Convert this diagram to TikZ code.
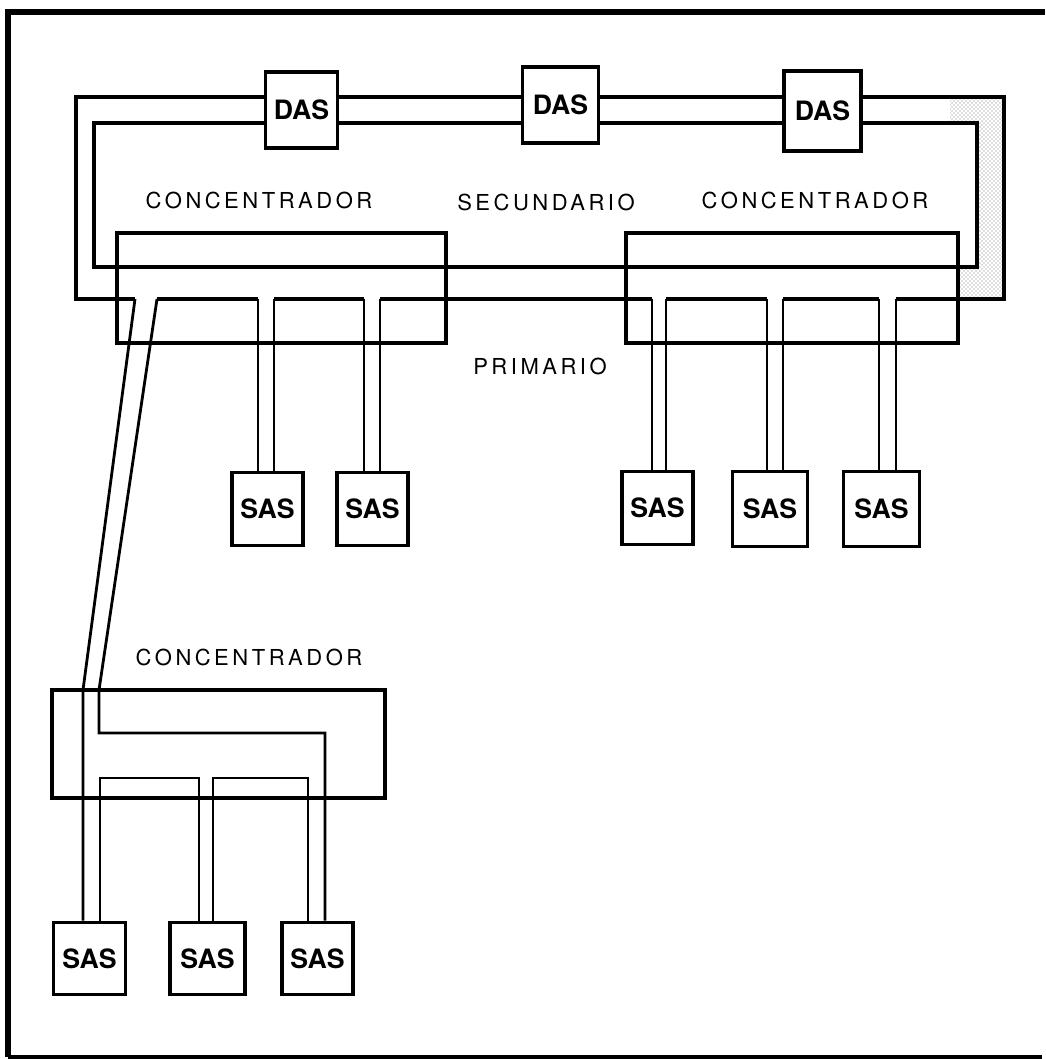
\documentclass[tikz,border=0pt]{standalone}
\usepackage{fontspec}
\setmainfont{TeX Gyre Heros}
\usetikzlibrary{patterns,calc}
\begin{document}
\begin{tikzpicture}[x=0.75pt,y=-0.75pt,
  wire/.style={line width=2.7pt, line join=miter},
  cable/.style={line width=2.1pt},
  unit/.style={draw, line width=2.7pt, fill=white, inner sep=0pt, minimum width=54pt, minimum height=56pt, font=\bfseries\fontsize{20}{22}\selectfont},
  conc/.style={draw, line width=2.7pt, inner sep=0pt},
  lbl/.style={inner sep=0pt, font=\fontsize{16.5}{18}\selectfont\addfontfeature{LetterSpace=16}},
]
\useasboundingbox (0,0) rectangle (1045,1059);

% frame
\draw[line width=4pt] (8,1057) -- (8,12) -- (1045,12);
\draw[line width=2.4pt] (8,1057) -- (1042,1057);

% stippled corner of the ring
\fill[pattern=crosshatch dots, pattern color=black!55] (950,97) -- (1004,97) -- (1004,299) -- (958,299) -- (958,267) -- (977,267) -- (977,123) -- (950,123) -- cycle;

% concentrators
\node[conc, minimum width=246.75pt, minimum height=82.5pt] (concL) at (281.5,288) {};
\node[conc, minimum width=249pt, minimum height=82.5pt] (concR) at (792,288) {};
\node[conc, minimum width=249.75pt, minimum height=81pt] (concB) at (218.5,744) {};

% ring corners
\coordinate (oTL) at (76,97);  \coordinate (oTR) at (1004,97);
\coordinate (oBL) at (76,299); \coordinate (oBR) at (1004,299);
\coordinate (iTL) at (94,123); \coordinate (iBR) at (977,267);

% taps on the primary ring
\coordinate (t0a) at (135,299); \coordinate (t0b) at (157,299);
\coordinate (t1a) at (258,299); \coordinate (t1b) at (274,299);
\coordinate (t2a) at (364,299); \coordinate (t2b) at (380,299);
\coordinate (t3a) at (652,299); \coordinate (t3b) at (666,299);
\coordinate (t4a) at (767,299); \coordinate (t4b) at (783,299);
\coordinate (t5a) at (879,299); \coordinate (t5b) at (896,299);

% secondary (inner) ring
\draw[wire] (iTL) rectangle (iBR);
% primary (outer) ring
\draw[wire] (t0a) -- (oBL) -- (oTL) -- (oTR) -- (oBR) -- (t5b);
\draw[wire] (t0b) -- (t1a);
\draw[wire] (t1b) -- (t2a);
\draw[wire] (t2b) -- (t3a);
\draw[wire] (t3b) -- (t4a);
\draw[wire] (t4b) -- (t5a);

% DAS stations
\node[unit, minimum width=54pt, minimum height=57pt] (das1) at (301.5,110) {DAS};
\node[unit, minimum width=57pt, minimum height=57pt] (das2) at (560.5,105) {DAS};
\node[unit, minimum width=58pt, minimum height=60pt] (das3) at (822.5,111) {DAS};

% upper SAS stations
\node[unit, minimum width=53pt, minimum height=55pt] (sasA) at (267.5,509) {SAS};
\node[unit, minimum width=53pt, minimum height=55pt] (sasB) at (372.5,509) {SAS};
\node[unit, minimum width=53pt, minimum height=55pt] (sasC) at (657.5,508) {SAS};
\node[unit, minimum width=56pt, minimum height=56pt] (sasD) at (770,509) {SAS};
\node[unit, minimum width=57pt, minimum height=56pt] (sasE) at (881.5,509) {SAS};

% lower SAS stations
\node[unit, minimum width=54pt, minimum height=54pt] (sasF) at (89.5,958.5) {SAS};
\node[unit, minimum width=56pt, minimum height=54pt] (sasG) at (207.5,958.5) {SAS};
\node[unit, minimum width=53pt, minimum height=54pt] (sasH) at (317.5,958.5) {SAS};

% drop cables to upper SAS
\foreach \t/\s in {t1/sasA, t2/sasB, t3/sasC, t4/sasD, t5/sasE}{
  \draw[cable] (\t a) -- (\t a |- \s.north);
  \draw[cable] (\t b) -- (\t b |- \s.north);
}

% cable to lower concentrator
\coordinate (bA) at (83,690);
\coordinate (bB) at (99,690);
\coordinate (bB2) at (99,733);
\coordinate (bC) at (325,733);
\draw[cable] (t0a) -- (bA) -- (bA |- sasF.north);
\draw[cable] (t0b) -- (bB) -- (bB2) -- (bC) -- (bC |- sasH.north);
\coordinate (lF) at (100,778);
\coordinate (lG1) at (199,778);
\coordinate (lG2) at (213,778);
\coordinate (lH) at (308,778);
\draw[cable] (lF |- sasF.north) -- (lF) -- (lG1) -- (lG1 |- sasG.north);
\draw[cable] (lG2 |- sasG.north) -- (lG2) -- (lH) -- (lH |- sasH.north);

% labels
\node[lbl] (tc1) at (259,200) {CONCENTRADOR};
\node[lbl] (tsec) at (546,202) {SECUNDARIO};
\node[lbl] (tc2) at (815,200) {CONCENTRADOR};
\node[lbl] (tprim) at (540,366) {PRIMARIO};
\node[lbl] (tc3) at (249,657) {CONCENTRADOR};
\end{tikzpicture}
\end{document}
